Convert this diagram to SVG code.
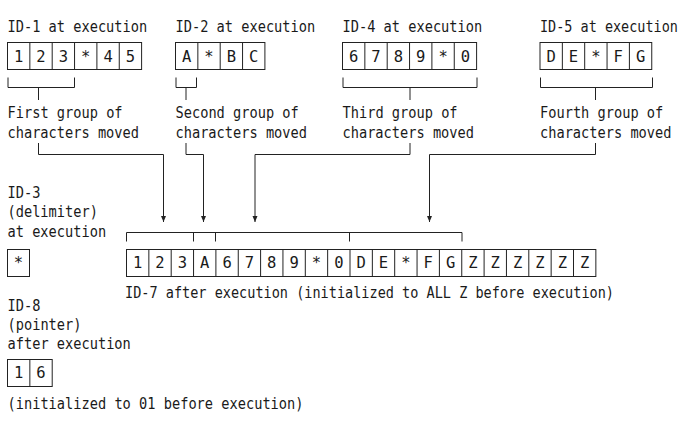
<svg xmlns="http://www.w3.org/2000/svg" width="693" height="427" viewBox="0 0 693 427">
<defs>
<style>
.t{font-family:"DejaVu Sans Mono","Liberation Mono",monospace;font-size:15.5px;fill:#1a1a1a}
.c{font-family:"DejaVu Sans Mono","Liberation Mono",monospace;font-size:15.5px;fill:#1a1a1a;text-anchor:middle}
.b{fill:#fff;stroke:#222;stroke-width:1}
.l{fill:none;stroke:#222;stroke-width:1}
</style>
<marker id="ah" markerUnits="userSpaceOnUse" markerWidth="8" markerHeight="8" refX="3" refY="7" orient="0" viewBox="0 0 6 8">
<polygon points="0.5,1 5.5,1 3,7" fill="#222"/>
</marker>
</defs>
<rect width="693" height="427" fill="#fff"/>

<g id="id1">
<text class="t" x="7.5" y="32" textLength="139.7" lengthAdjust="spacingAndGlyphs">ID-1 at execution</text>
<rect class="b" x="7.5" y="42.5" width="134.1" height="27"/>
<path class="l" d="M29.85,42.5V69.5M52.2,42.5V69.5M74.55,42.5V69.5M96.9,42.5V69.5M119.25,42.5V69.5"/>
<text class="c" x="18.68" y="61.5">1</text><text class="c" x="41.03" y="61.5">2</text><text class="c" x="63.38" y="61.5">3</text><text class="c" x="85.73" y="61.5">*</text><text class="c" x="108.08" y="61.5">4</text><text class="c" x="130.43" y="61.5">5</text>
<text class="t" x="7.5" y="118" textLength="115.1" lengthAdjust="spacingAndGlyphs">First group of</text>
<text class="t" x="7.5" y="138" textLength="131.5" lengthAdjust="spacingAndGlyphs">characters moved</text>
</g>

<g id="id2">
<text class="t" x="175.5" y="32" textLength="139.7" lengthAdjust="spacingAndGlyphs">ID-2 at execution</text>
<rect class="b" x="175.5" y="42.5" width="89.4" height="27"/>
<path class="l" d="M197.85,42.5V69.5M220.2,42.5V69.5M242.55,42.5V69.5"/>
<text class="c" x="186.68" y="61.5">A</text><text class="c" x="209.03" y="61.5">*</text><text class="c" x="231.38" y="61.5">B</text><text class="c" x="253.73" y="61.5">C</text>
<text class="t" x="175.5" y="118" textLength="123.3" lengthAdjust="spacingAndGlyphs">Second group of</text>
<text class="t" x="175.5" y="138" textLength="131.5" lengthAdjust="spacingAndGlyphs">characters moved</text>
</g>

<g id="id4">
<text class="t" x="342.5" y="32" textLength="139.7" lengthAdjust="spacingAndGlyphs">ID-4 at execution</text>
<rect class="b" x="342.5" y="42.5" width="134.1" height="27"/>
<path class="l" d="M364.85,42.5V69.5M387.2,42.5V69.5M409.55,42.5V69.5M431.9,42.5V69.5M454.25,42.5V69.5"/>
<text class="c" x="353.68" y="61.5">6</text><text class="c" x="376.03" y="61.5">7</text><text class="c" x="398.38" y="61.5">8</text><text class="c" x="420.73" y="61.5">9</text><text class="c" x="443.08" y="61.5">*</text><text class="c" x="465.43" y="61.5">0</text>
<text class="t" x="342.5" y="118" textLength="115.1" lengthAdjust="spacingAndGlyphs">Third group of</text>
<text class="t" x="342.5" y="138" textLength="131.5" lengthAdjust="spacingAndGlyphs">characters moved</text>
</g>

<g id="id5">
<text class="t" transform="translate(540,32) scale(0.87,1)" x="0" y="0">ID-5 at execution</text>
<rect class="b" x="540" y="42.5" width="111.75" height="27"/>
<path class="l" d="M562.35,42.5V69.5M584.7,42.5V69.5M607.05,42.5V69.5M629.4,42.5V69.5"/>
<text class="c" x="551.18" y="61.5">D</text><text class="c" x="573.53" y="61.5">E</text><text class="c" x="595.88" y="61.5">*</text><text class="c" x="618.23" y="61.5">F</text><text class="c" x="640.58" y="61.5">G</text>
<text class="t" x="540" y="118" textLength="123.3" lengthAdjust="spacingAndGlyphs">Fourth group of</text>
<text class="t" x="540" y="138" textLength="131.5" lengthAdjust="spacingAndGlyphs">characters moved</text>
</g>

<g id="id3">
<text class="t" x="7.5" y="197.5" textLength="32.9" lengthAdjust="spacingAndGlyphs">ID-3</text>
<text class="t" x="7.5" y="217" textLength="90.4" lengthAdjust="spacingAndGlyphs">(delimiter)</text>
<text class="t" x="7.5" y="237" textLength="98.6" lengthAdjust="spacingAndGlyphs">at execution</text>
<rect class="b" x="7.5" y="249.5" width="22" height="27"/>
<text class="c" x="18.5" y="268">*</text>
</g>

<g id="id7">
<rect class="b" x="126.5" y="249.5" width="469.35" height="27"/>
<path class="l" d="M148.85,249.5V276.5M171.2,249.5V276.5M193.55,249.5V276.5M215.9,249.5V276.5M238.25,249.5V276.5M260.6,249.5V276.5M282.95,249.5V276.5M305.3,249.5V276.5M327.65,249.5V276.5M350,249.5V276.5M372.35,249.5V276.5M394.7,249.5V276.5M417.05,249.5V276.5M439.4,249.5V276.5M461.75,249.5V276.5M484.1,249.5V276.5M506.45,249.5V276.5M528.8,249.5V276.5M551.15,249.5V276.5M573.5,249.5V276.5"/>
<text class="c" x="137.68" y="268">1</text><text class="c" x="160.03" y="268">2</text><text class="c" x="182.38" y="268">3</text><text class="c" x="204.73" y="268">A</text><text class="c" x="227.08" y="268">6</text><text class="c" x="249.43" y="268">7</text><text class="c" x="271.78" y="268">8</text><text class="c" x="294.13" y="268">9</text><text class="c" x="316.48" y="268">*</text><text class="c" x="338.83" y="268">0</text><text class="c" x="361.18" y="268">D</text><text class="c" x="383.53" y="268">E</text><text class="c" x="405.88" y="268">*</text><text class="c" x="428.23" y="268">F</text><text class="c" x="450.58" y="268">G</text><text class="c" x="472.93" y="268">Z</text><text class="c" x="495.28" y="268">Z</text><text class="c" x="517.63" y="268">Z</text><text class="c" x="539.98" y="268">Z</text><text class="c" x="562.33" y="268">Z</text><text class="c" x="584.68" y="268">Z</text>
<text class="t" x="125" y="298" textLength="489" lengthAdjust="spacingAndGlyphs">ID-7 after execution (initialized to ALL Z before execution)</text>
</g>

<g id="id8">
<text class="t" x="7.5" y="310.5" textLength="32.9" lengthAdjust="spacingAndGlyphs">ID-8</text>
<text class="t" x="7.5" y="330" textLength="74" lengthAdjust="spacingAndGlyphs">(pointer)</text>
<text class="t" x="7.5" y="349" textLength="123.3" lengthAdjust="spacingAndGlyphs">after execution</text>
<rect class="b" x="7.5" y="359.5" width="44.7" height="27"/>
<path class="l" d="M29.85,359.5V386.5"/>
<text class="c" x="18.68" y="378">1</text><text class="c" x="41.03" y="378">6</text>
<text class="t" x="7.5" y="408.5" textLength="296" lengthAdjust="spacingAndGlyphs">(initialized to 01 before execution)</text>
</g>

<g id="connectors">
<path class="l" d="M8,77.5V87.5H74.5V77.5M38.5,87.5V100"/>
<path class="l" d="M176,77.5V87.5H196.5V77.5M186,87.5V100"/>
<path class="l" d="M343,77.5V87.5H477V77.5M410,87.5V100"/>
<path class="l" d="M540.5,77.5V87.5H652.5V77.5M595.5,87.5V100"/>
<path class="l" d="M126.5,241.5V232.5H462V241.5M193.5,232.5V241.5M215.5,232.5V241.5M349.5,232.5V241.5"/>
<path class="l" d="M38.5,143V154.5H163.5V222" marker-end="url(#ah)"/>
<path class="l" d="M186,143V154.5H203.5V222" marker-end="url(#ah)"/>
<path class="l" d="M410,143V154.5H255V222" marker-end="url(#ah)"/>
<path class="l" d="M595.5,143V154.5H429.5V222" marker-end="url(#ah)"/>
</g>
</svg>
